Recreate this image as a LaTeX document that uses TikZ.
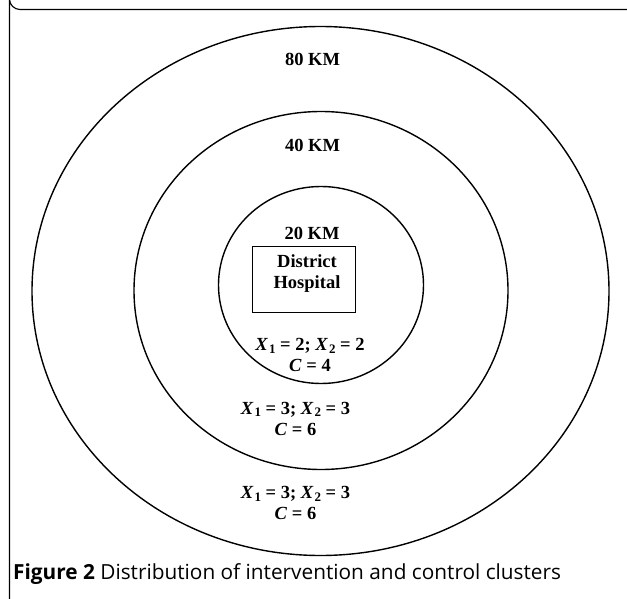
\documentclass[tikz,border=0pt]{standalone}
\usepackage{fontspec}
\setmainfont{Liberation Serif}
\newfontfamily\capfont{Open Sans}
\newcommand{\xsub}[1]{\textit{X}\kern0.05em\raisebox{-0.3ex}{\fontsize{13}{13}\selectfont #1}}
\begin{document}
\begin{tikzpicture}[x=1pt,y=-1pt,
  ring/.style={draw=black,line width=1.4pt},
  lbl/.style={font=\fontsize{18.5}{21}\selectfont\bfseries,align=center,inner sep=0pt},
  frame/.style={draw=black,line width=1.1pt}]
\useasboundingbox (0,0) rectangle (627,599);
\draw[frame] (627,9.5) -- (20,9.5) arc[start angle=90,end angle=180,radius=10.5] -- (9.5,599);
\path[ring] (320.5,291) ellipse[x radius=288.5,y radius=264.5];
\path[ring] (321,290.5) ellipse[x radius=187,y radius=179];
\path[ring] (321,285) ellipse[x radius=102.5,y radius=98.5];
\node[draw=black,line width=1.1pt,minimum width=103.5pt,minimum height=65.5pt,inner sep=0pt] (box) at (304,279.5) {};
\node[lbl] (hosp) at (307,274) {District\\Hospital};
\node[lbl] (k80) at (312.5,59.5) {80 KM};
\node[lbl] (k40) at (312.5,145) {40 KM};
\node[lbl] (k20) at (312,233) {20 KM};
\node[lbl] (in) at (310,355) {\xsub{1} = 2; \xsub{2} = 2\\\textit{C} = 4};
\node[lbl] (mid) at (295.5,418.5) {\xsub{1} = 3; \xsub{2} = 3\\\textit{C} = 6};
\node[lbl] (out) at (295.5,503) {\xsub{1} = 3; \xsub{2} = 3\\\textit{C} = 6};
\node[anchor=base west,inner sep=0pt,font=\capfont\fontsize{20.8}{24}\selectfont] (cap) at (13,579) {\textbf{Figure 2} Distribution of intervention and control clusters};
\end{tikzpicture}
\end{document}
